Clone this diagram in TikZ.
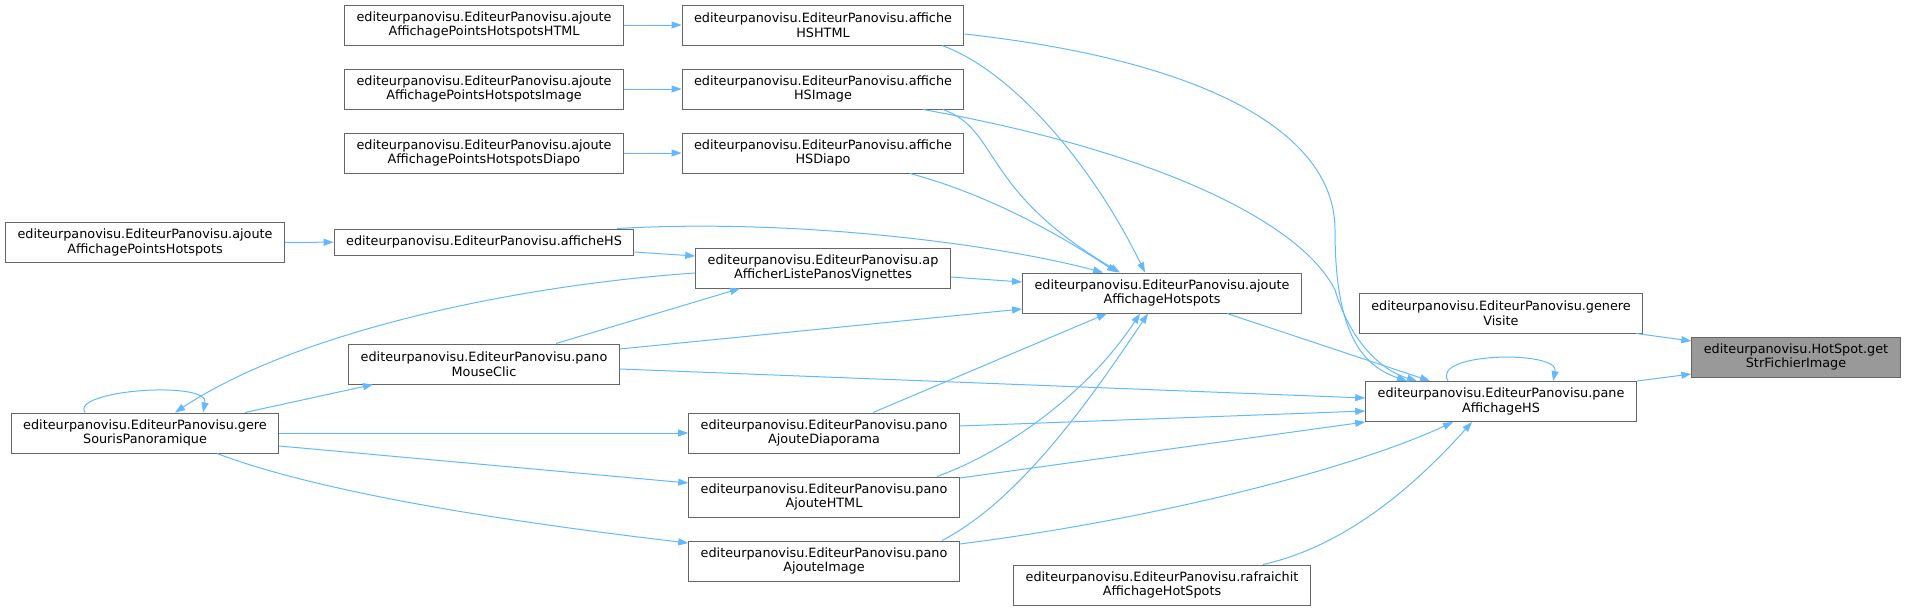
\documentclass[tikz,border=0pt]{standalone}
\usepackage{fontspec}
\setmainfont{DejaVu Sans}
\usetikzlibrary{arrows.meta}
\definecolor{edge}{HTML}{63B8FF}
\definecolor{frame}{HTML}{666666}
\definecolor{hl}{HTML}{999999}
\tikzset{fn/.style={draw=frame,fill=white,line width=1pt,minimum height=40pt,inner xsep=12pt,inner ysep=3pt,align=center},
 hit/.style={fn,fill=hl},
 call/.style={draw=edge,line width=1pt,-{Triangle[length=10pt,width=7pt]}}}
\begin{document}
\begin{tikzpicture}[x=1pt,y=-1pt,every node/.style={font=\fontsize{12.8}{14.5}\selectfont}]
\useasboundingbox (0,0) rectangle (1905,611);
% callers, left to right
\node[fn](apHS)at(145,242.5){editeurpanovisu.EditeurPanovisu.ajoute\\AffichagePointsHotspots};
\node[fn](gere)at(145,433){editeurpanovisu.EditeurPanovisu.gere\\SourisPanoramique};
\node[fn](apHTML)at(484,25){editeurpanovisu.EditeurPanovisu.ajoute\\AffichagePointsHotspotsHTML};
\node[fn](apImg)at(484,89){editeurpanovisu.EditeurPanovisu.ajoute\\AffichagePointsHotspotsImage};
\node[fn](apDia)at(484,153){editeurpanovisu.EditeurPanovisu.ajoute\\AffichagePointsHotspotsDiapo};
\node[fn,minimum height=26pt](aHS)at(484,242){editeurpanovisu.EditeurPanovisu.afficheHS};
\node[fn](mclic)at(484,364){editeurpanovisu.EditeurPanovisu.pano\\MouseClic};
\node[fn](hsHTML)at(823,25){editeurpanovisu.EditeurPanovisu.affiche\\HSHTML};
\node[fn](hsImg)at(823,89){editeurpanovisu.EditeurPanovisu.affiche\\HSImage};
\node[fn](hsDia)at(823,153){editeurpanovisu.EditeurPanovisu.affiche\\HSDiapo};
\node[fn](liste)at(823,268){editeurpanovisu.EditeurPanovisu.ap\\AfficherListePanosVignettes};
\node[fn](pDia)at(824,433){editeurpanovisu.EditeurPanovisu.pano\\AjouteDiaporama};
\node[fn](pHTML)at(824,497){editeurpanovisu.EditeurPanovisu.pano\\AjouteHTML};
\node[fn](pImg)at(824,561){editeurpanovisu.EditeurPanovisu.pano\\AjouteImage};
\node[fn](ajHS)at(1162,293){editeurpanovisu.EditeurPanovisu.ajoute\\AffichageHotspots};
\node[fn](rafr)at(1162,585){editeurpanovisu.EditeurPanovisu.rafraichit\\AffichageHotSpots};
\node[fn](visite)at(1501,313){editeurpanovisu.EditeurPanovisu.genere\\Visite};
\node[fn](pane)at(1501,401.5){editeurpanovisu.EditeurPanovisu.pane\\AffichageHS};
\node[hit](getstr)at(1796,357){editeurpanovisu.HotSpot.get\\StrFichierImage};
% straight calls
\foreach \a/\b in {apHTML/hsHTML,apImg/hsImg,apDia/hsDia,apHS/aHS,gere/pDia}
 {\draw[call](\a)--(\b);}
\draw[call]([yshift=-10pt]aHS.east)--([yshift=12pt]liste.west);
\draw[call]([yshift=-9pt]liste.east)--([yshift=11pt]ajHS.west);
\draw[call]([xshift=100pt]gere.north)--([xshift=-111pt]mclic.south);
\draw[call]([xshift=72pt]mclic.north)--([xshift=-83pt]liste.south);
\draw[call]([yshift=15pt]mclic.east)--([yshift=-16pt]ajHS.west);
\draw[call]([yshift=-5pt]mclic.east)--([yshift=3.5pt]pane.west);
\draw[call]([yshift=-13pt]gere.east)--([yshift=14pt]pHTML.west);
\draw[call]([xshift=49pt]pDia.north)--([xshift=-55pt]ajHS.south);
\draw[call]([yshift=7pt]pDia.east)--([yshift=-9.5pt]pane.west);
\draw[call]([yshift=19pt]pHTML.east)--(pane.south west);
\draw[call]([xshift=65pt]ajHS.south)--([xshift=-71pt]pane.north);
\draw[call](pane.north east)--([yshift=-17pt]getstr.west);
\draw[call]([xshift=-7pt]visite.south east)--([yshift=16pt]getstr.west);
% curved calls
\draw[call]([yshift=-5pt]liste.west) .. controls (520,285) and (300,330) .. ([xshift=30pt]gere.north);
\draw[call]([xshift=72pt]gere.south) .. controls (300,485) and (450,515) .. ([yshift=18pt]pImg.west);
\draw[call]([xshift=-60pt]gere.north) .. controls (70,390) and (210,380) .. ([xshift=58pt]gere.north);
\draw[call]([xshift=-53pt]pane.north) .. controls (1430,352) and (1560,350) .. ([xshift=52pt]pane.north);
\draw[call]([xshift=133pt]aHS.north) .. controls (800,218) and (1000,245) .. ([xshift=-59pt]ajHS.north);
\draw[call]([xshift=119pt]hsHTML.south) .. controls (1010,70) and (1090,160) .. ([xshift=-17pt]ajHS.north);
\draw[call]([xshift=120pt]hsImg.south) .. controls (1000,130) and (980,190) .. ([xshift=-42pt]ajHS.north);
\draw[call]([xshift=87pt]hsDia.south) .. controls (990,195) and (1060,235) .. ([xshift=-45pt]ajHS.north);
\draw[call]([xshift=113pt]pHTML.north) .. controls (1010,450) and (1090,390) .. ([xshift=-22pt]ajHS.south);
\draw[call]([xshift=118pt]pImg.north) .. controls (1020,500) and (1090,400) .. ([xshift=-14pt]ajHS.south);
\draw[call]([yshift=17pt]pImg.east) .. controls (1150,520) and (1350,470) .. ([xshift=-48pt]pane.south);
\draw[call]([xshift=101pt]rafr.north) .. controls (1350,545) and (1420,480) .. ([xshift=-29pt]pane.south);
\draw[call]([yshift=-9pt]hsHTML.east) .. controls (1200,60) and (1335,130) .. (1335,230) .. controls (1335,330) and (1360,365) .. ([xshift=-94pt]pane.north);
\draw[call]([xshift=100pt]hsImg.south) .. controls (1150,150) and (1300,220) .. (1335,290) .. controls (1350,340) and (1380,370) .. ([xshift=-84pt]pane.north);
\end{tikzpicture}
\end{document}
